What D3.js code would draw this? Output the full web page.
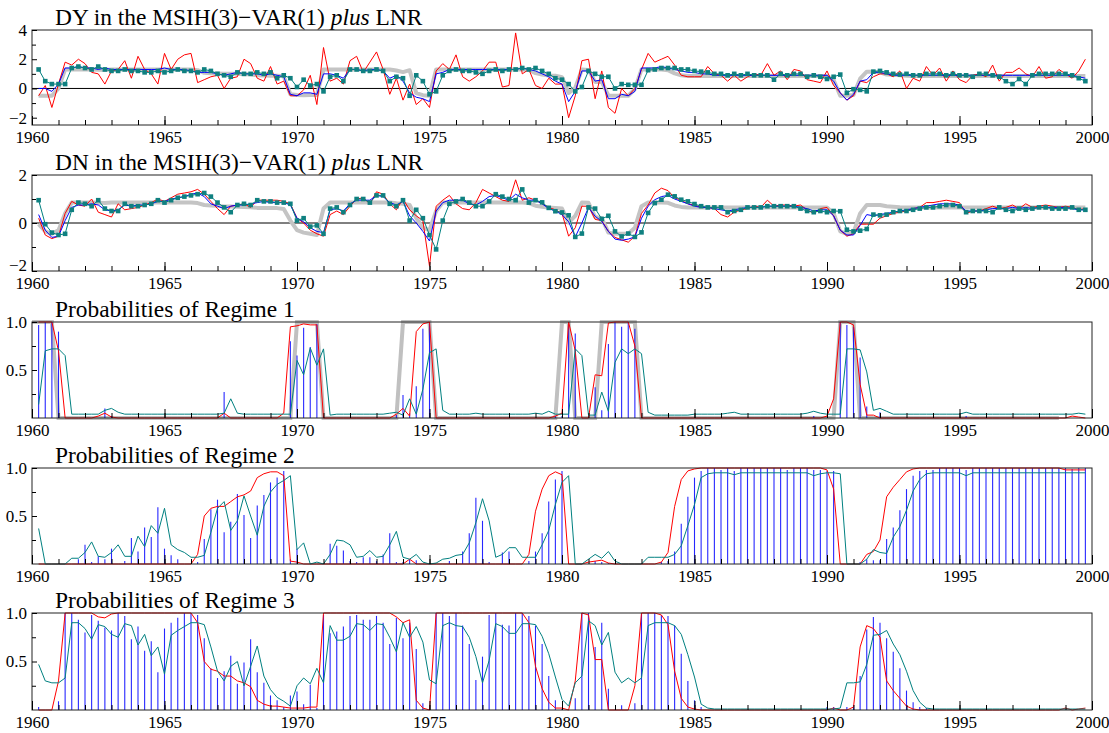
<!DOCTYPE html>
<html>
<head>
<meta charset="utf-8">
<script src="https://cdn.jsdelivr.net/npm/d3@7"></script>
<style>
  body { margin: 0; background: #fff; }
  svg text { font-family: "Liberation Serif", "Times New Roman", serif; fill: #000; }
</style>
</head>
<body>
<svg id="chart" width="1109" height="733"></svg>
<script>
// quarterly observations, 1960Q2 .. 1999Q4 (first row of each array is 1960Q2-Q4)
const firstQuarter = 1960.25;

const dyActual = [
  -0.5, 0.2, -1.3,
  0.3, 1.8, 1.6, 2.0,   1.7, 1.1, 1.0, 0.3,   1.2, 1.3, 1.9, 0.7,   2.2, 1.3, 1.0, 0.3,
  2.4, 1.3, 2.0, 2.3,   2.4, 0.4, 0.6, 0.8,   0.9, 0.0, 0.7, 0.8,   2.0, 1.7, 0.7, 0.5,
  1.5, 0.3, 0.5, -0.5,  -0.5, -0.1, 0.9, -1.1, 2.8, 0.5, 0.7, 0.3,  1.9, 2.2, 1.1, 1.8,
  2.5, 1.3, -0.4, 0.7,  -0.8, 0.3, -1.1, -0.7, -1.3, 1.2, 1.7, 1.3, 2.3, 0.8, 0.5, 0.8,
  1.2, 1.8, 1.8, 0.1,   0.2, 3.8, 1.0, 1.3,   0.2, 0.0, 0.7, 0.3,   0.3, -2.0, -0.5, 1.9,
  2.0, -0.7, 1.2, -1.3, -1.7, 0.0, -0.5, 0.0, 1.3, 2.4, 1.8, 2.0,   2.2, 1.6, 0.9, 0.8,
  0.8, 0.8, 1.5, 1.0,   0.9, 0.5, 0.9, 0.5,   0.8, 1.0, 0.9, 1.7,   0.9, 1.2, 0.6, 1.3,
  1.2, 0.6, 0.5, 0.4,   1.2, 0.2, -0.3, -0.8, -0.5, 0.5, 0.4, 0.8,  1.0, 1.0, 0.8, 1.2,
  0.0, 0.7, 0.5, 1.5,   0.9, 1.4, 0.5, 1.2,   0.6, 0.4, 0.9, 1.0,   0.8, 1.6, 0.5, 1.1,
  1.1, 1.4, 1.0, 0.8,   1.5, 0.7, 0.8, 1.3,   1.0, 0.7, 1.2, 2.0
];
const dyFitted = [
  0.0, 0.0, -0.2,
  0.3, 1.4, 1.4, 1.5,   1.4, 1.4, 1.3, 1.4,   1.3, 1.3, 1.3, 1.3,   1.3, 1.3, 1.3, 1.3,
  1.4, 1.3, 1.3, 1.3,   1.2, 1.1, 1.1, 1.1,   1.0, 0.9, 1.0, 1.1,   1.0, 1.0, 1.0, 0.9,
  1.0, 0.9, 0.8, -0.4,  -0.5, -0.3, -0.3, -0.4, 1.0, 1.0, 0.9, 0.7, 1.3, 1.3, 1.2, 1.3,
  1.3, 1.2, 0.7, 0.9,   0.5, -0.3, -0.6, -0.7, -0.9, 1.0, 1.1, 1.3, 1.3, 1.3, 1.3, 1.3,
  1.3, 1.3, 1.3, 1.3,   1.3, 1.3, 1.4, 1.3,   1.2, 1.0, 0.8, 0.5,   0.3, -0.9, -0.2, 1.2,
  1.2, 0.5, 0.6, -0.7,  -0.7, -0.4, -0.5, -0.2, 1.4, 1.4, 1.4, 1.5, 1.4, 1.3, 1.2, 1.1,
  1.1, 1.0, 1.0, 0.9,   0.9, 0.9, 0.9, 0.9,   0.9, 0.9, 0.9, 0.9,   0.9, 0.9, 0.9, 0.9,
  0.9, 0.9, 0.9, 0.9,   0.9, 0.5, -0.3, -0.8, -0.4, 0.5, 0.6, 1.1,  1.1, 1.0, 0.9, 0.9,
  0.9, 0.9, 0.9, 0.9,   0.9, 0.9, 0.9, 0.9,   0.9, 0.9, 0.9, 0.9,   0.9, 0.9, 0.9, 0.9,
  0.9, 0.9, 0.9, 0.9,   0.9, 0.9, 0.9, 0.9,   0.9, 0.9, 0.8, 0.7
];
const dyPredicted = [
  1.3, 0.5, 0.3,
  0.3, 0.3, 1.4, 1.5,   1.4, 1.3, 1.5, 1.3,   1.2, 1.2, 1.3, 1.2,   1.2, 1.1, 1.1, 1.2,
  1.1, 1.2, 1.3, 1.2,   1.2, 1.1, 1.3, 1.2,   1.0, 0.9, 0.8, 1.1,   1.0, 1.0, 1.1, 1.0,
  1.1, 0.7, 0.9, 0.7,   0.1, 0.6, 0.2, 0.3,   -0.2, 0.8, 0.9, 0.5,  1.3, 1.3, 1.2, 1.2,
  1.3, 1.2, 0.5, 0.8,   0.7, -0.5, 0.9, 0.5,  -0.4, -0.2, 0.9, 1.2, 1.3, 1.2, 1.2, 1.1,
  1.0, 1.2, 1.3, 1.2,   1.3, 1.3, 1.4, 1.3,   1.4, 1.2, 1.0, 0.7,   0.6, 0.3, -0.2, 0.1,
  1.2, 1.0, 0.8, 0.8,   0.0, 0.3, 0.25, 0.25, 0.25, 1.25, 1.3, 1.4, 1.4, 1.4, 1.3, 1.3,
  1.2, 1.15, 1.1, 1.0,  1.0, 0.9, 1.0, 0.9,   1.0, 0.9, 0.9, 0.9,   0.6, 1.0, 0.9, 1.0,
  1.0, 0.8, 0.9, 0.8,   0.65, 0.8, 0.95, -0.3, -0.05, -0.1, -0.2, 1.15, 1.2, 1.1, 1.0, 0.95,
  1.0, 0.9, 0.9, 1.0,   1.0, 1.0, 0.9, 1.0,   0.9, 0.9, 0.8, 1.0,   1.0, 0.9, 0.8, 0.5,
  0.3, 0.65, 0.3, 0.9,  1.0, 1.0, 1.0, 1.0,   1.0, 0.9, 0.7, 0.5
];
const dyMean = [
  -0.5, -0.5, -0.5,
  0.0, 1.3, 1.3, 1.3,   1.3, 1.3, 1.28, 1.27, 1.3, 1.3, 1.3, 1.3,   1.3, 1.3, 1.3, 1.3,
  1.3, 1.3, 1.3, 1.3,   1.3, 1.25, 1.07, 1.04, 1.03, 1.0, 1.0, 1.0, 0.98, 0.97, 0.9, 0.88,
  0.87, 0.87, 0.83, -0.4, -0.45, -0.46, -0.45, -0.45, 1.3, 1.3, 1.3, 1.3, 1.3, 1.3, 1.3, 1.3,
  1.3, 1.3, 1.3, 1.23, 1.12, 1.25, -0.32, -0.46, -0.5, 1.3, 1.3, 1.3, 1.3, 1.3, 1.3, 1.3,
  1.3, 1.3, 1.3, 1.3,   1.3, 1.3, 1.3, 1.26, 1.05, 0.95, 0.89, 0.87, 0.77, -0.3, 0.04, 1.3,
  1.27, 0.45, 0.45, -0.48, -0.5, -0.5, -0.5, -0.05, 1.3, 1.3, 1.3, 1.29, 1.25, 1.03, 0.9, 0.86,
  0.85, 0.85, 0.85, 0.85, 0.85, 0.85, 0.85, 0.85, 0.85, 0.85, 0.85, 0.85, 0.85, 0.85, 0.85, 0.85,
  0.85, 0.85, 0.85, 0.85, 0.85, 0.58, -0.5, -0.5, -0.45, 0.67, 1.15, 1.14, 1.1, 0.95, 0.94, 0.9,
  0.87, 0.86, 0.85, 0.85, 0.85, 0.85, 0.85, 0.85, 0.85, 0.85, 0.85, 0.85, 0.85, 0.85, 0.85, 0.85,
  0.85, 0.85, 0.85, 0.85, 0.85, 0.85, 0.85, 0.85, 0.86, 0.86, 0.86, 0.86
];

const dnActual = [
  0.2, -0.5, -0.65,
  -0.55, 0.4, 0.9, 0.75, 0.7, 1.0, 0.45, 0.35, 0.25, 0.8, 0.55, 0.6,  0.65, 0.75, 0.85, 1.0,
  0.9, 1.05, 1.2, 1.25, 1.3, 1.4, 1.2, 0.9,   0.6, 0.35, 0.7, 0.75,  0.8, 0.65, 0.95, 0.95,
  0.95, 0.95, 0.9, 0.8, 0.2, 0.0, -0.3, -0.45, -0.55, 0.35, 0.5, 0.35, 0.7, 1.0, 1.05, 0.8,
  1.3, 1.2, 0.8, 0.55,  1.0, 0.55, 0.3, 0.1,  -1.8, 0.7, 0.95, 1.15, 0.8, 0.6, 0.55, 0.85,
  1.4, 1.25, 1.1, 0.95, 0.9, 1.8, 0.95, 1.05, 0.95, 0.8, 0.65, 0.55, 0.4, -0.55, -0.2, 0.7,
  0.7, 0.15, 0.1, -0.35, -0.6, -0.7, -0.8, -0.55, 0.4, 0.75, 1.25, 1.45, 1.35, 1.05, 0.95, 0.8,
  0.75, 0.65, 0.65, 0.6, 0.35, 0.25, 0.45, 0.55, 0.6, 0.7, 0.65, 0.95, 0.7, 0.75, 0.75, 0.7,
  0.75, 0.55, 0.4, 0.6, 0.65, 0.3, -0.3, -0.55, -0.45, -0.05, -0.05, -0.05, 0.2, 0.3, 0.4, 0.45,
  0.5, 0.6, 0.65, 0.85, 0.85, 0.9, 0.95, 0.9,  0.85, 0.4, 0.5, 0.5,   0.6, 0.7, 0.6, 0.65,
  0.75, 0.6, 0.8, 0.65, 0.7, 0.75, 0.7, 0.65,  0.7, 0.65, 0.55, 0.6
];
const dnFitted = [
  0.35, -0.3, -0.6,
  -0.55, 0.1, 0.65, 0.75, 0.75, 0.8, 0.75, 0.55, 0.5, 0.55, 0.75, 0.7, 0.75, 0.75, 0.8, 0.9,
  0.9, 1.0, 1.05, 1.1,  1.2, 1.25, 1.1, 0.8,  0.7, 0.6, 0.7, 0.75,   0.75, 0.8, 0.85, 0.9,
  0.85, 0.85, 0.85, 0.75, 0.2, 0.05, -0.2, -0.35, -0.4, 0.55, 0.6, 0.5, 0.8, 0.95, 0.95, 0.95,
  1.15, 1.1, 0.85, 0.75, 0.9, 0.3, 0.0, -0.35, -0.75, 0.5, 0.85, 0.95, 0.95, 0.95, 0.8, 0.75,
  0.9, 1.1, 1.15, 1.05, 0.95, 1.2, 1.05, 0.95, 0.95, 0.8, 0.6, 0.5,  0.35, 0.05, -0.58, 0.0,
  0.65, 0.28, 0.07, -0.35, -0.67, -0.72, -0.67, -0.58, 0.2, 0.7, 0.97, 1.1, 1.15, 1.0, 0.9, 0.8,
  0.7, 0.65, 0.65, 0.6, 0.55, 0.5, 0.55, 0.6,  0.65, 0.65, 0.65, 0.7, 0.7, 0.7, 0.7, 0.7,
  0.65, 0.6, 0.5, 0.55, 0.55, 0.3, -0.3, -0.5, -0.5, -0.1, 0.35, 0.3, 0.35, 0.4, 0.45, 0.5,
  0.55, 0.6, 0.65, 0.7, 0.75, 0.8, 0.8, 0.8,   0.75, 0.5, 0.5, 0.5,   0.55, 0.6, 0.6, 0.6,
  0.65, 0.6, 0.65, 0.6, 0.65, 0.65, 0.65, 0.65, 0.65, 0.6, 0.55, 0.55
];
const dnPredicted = [
  0.95, -0.05, -0.4,
  -0.5, -0.45, 0.55, 0.85, 0.8, 0.7, 0.95, 0.6, 0.5, 0.5, 0.8, 0.7,  0.7, 0.75, 0.8, 0.95,
  0.85, 0.95, 1.05, 1.1, 1.15, 1.2, 1.25, 1.1, 0.85, 0.65, 0.45, 0.75, 0.8, 0.75, 0.95, 0.9,
  0.9, 0.85, 0.85, 0.8, 0.1, 0.2, -0.15, -0.1, -0.45, 0.6, 0.65, 0.45, 0.75, 1.0, 1.0, 0.85,
  1.15, 1.15, 0.8, 0.7, 0.95, 0.1, 0.55, 0.2, -0.5, -1.1, 0.1, 0.8,  0.9, 1.0, 0.85, 0.7,
  0.7, 0.9, 1.2, 1.1,   1.0, 0.95, 1.4, 0.85, 0.95, 0.86, 0.63, 0.49, 0.44, 0.32, -0.58, -0.44,
  0.65, 0.6, 0.17, 0.3, -0.35, -0.56, -0.44, -0.58, -0.39, 0.42, 0.83, 0.97, 1.18, 1.11, 0.97, 0.9,
  0.79, 0.7, 0.65, 0.65, 0.65, 0.45, 0.5, 0.55, 0.65, 0.65, 0.65, 0.7, 0.7, 0.7, 0.7, 0.7,
  0.6, 0.5, 0.45, 0.5,  0.45, 0.5, 0.49, -0.28, -0.35, -0.32, -0.25, 0.35, 0.32, 0.35, 0.45, 0.5,
  0.5, 0.55, 0.6, 0.65, 0.65, 0.7, 0.75, 0.75, 0.7, 0.45, 0.5, 0.5,  0.5, 0.45, 0.65, 0.55,
  0.5, 0.6, 0.55, 0.6,  0.65, 0.65, 0.6, 0.6,  0.6, 0.65, 0.55, 0.55
];
const dnMean = [
  -0.05, -0.35, -0.45,
  -0.3, 0.4, 0.85, 0.85, 0.85, 0.85, 0.84, 0.83, 0.85, 0.85, 0.85, 0.85, 0.85, 0.85, 0.85, 0.85,
  0.85, 0.85, 0.85, 0.85, 0.85, 0.83, 0.75, 0.73, 0.72, 0.69, 0.69, 0.68, 0.67, 0.66, 0.63, 0.62,
  0.62, 0.62, 0.58, 0.1, -0.3, -0.4, -0.45, -0.5, 0.6, 0.85, 0.85, 0.85, 0.85, 0.85, 0.85, 0.85,
  0.85, 0.85, 0.85, 0.82, 0.8, 0.75, 0.2, -0.2, -0.3, 0.5, 0.85, 0.85, 0.85, 0.85, 0.85, 0.85,
  0.85, 0.85, 0.85, 0.85, 0.85, 0.85, 0.85, 0.83, 0.72, 0.68, 0.65, 0.63, 0.6, 0.02, 0.3, 0.85,
  0.84, 0.25, 0.2, -0.4, -0.45, -0.45, -0.45, -0.2, 0.7, 0.85, 0.85, 0.85, 0.84, 0.73, 0.67, 0.65,
  0.65, 0.65, 0.65, 0.65, 0.65, 0.65, 0.65, 0.65, 0.65, 0.65, 0.65, 0.65, 0.65, 0.65, 0.65, 0.65,
  0.65, 0.65, 0.65, 0.65, 0.65, 0.4, -0.35, -0.45, -0.4, 0.4, 0.75, 0.75, 0.75, 0.7, 0.68, 0.66,
  0.65, 0.65, 0.65, 0.65, 0.65, 0.65, 0.65, 0.65, 0.65, 0.65, 0.65, 0.65, 0.65, 0.65, 0.65, 0.65,
  0.65, 0.65, 0.65, 0.65, 0.65, 0.65, 0.65, 0.65, 0.65, 0.65, 0.65, 0.65
];

// regime probabilities: smoothed (red), filtered (bars), predicted (teal)
const p1Smoothed = [
  1, 1, 1,
  0.7, 0, 0, 0,   0, 0, 0.02, 0.05,   0.01, 0, 0, 0,   0, 0, 0, 0,
  0, 0, 0, 0,     0, 0, 0, 0,   0, 0.05, 0, 0,   0, 0, 0, 0,
  0, 0, 0.05, 0.95,  0.96, 0.98, 0.97, 0.97,  0, 0, 0, 0,   0, 0, 0, 0,
  0, 0, 0, 0.04,  0.1, 0.02, 0.9, 0.98,  1, 0, 0, 0,   0, 0, 0, 0,
  0, 0, 0, 0,     0, 0, 0, 0,   0, 0, 0, 0.02,   0.05, 1, 0.7, 0,
  0, 0.45, 0.44, 0.99,  1, 1, 1, 0.75,  0, 0, 0, 0,   0, 0, 0, 0,
  0, 0, 0, 0,     0, 0, 0, 0,   0, 0, 0, 0,   0, 0, 0, 0,
  0, 0, 0, 0,     0.02, 0.2, 1, 1,  0.97, 0.35, 0.03, 0.03,  0, 0, 0, 0,
  0, 0, 0, 0,     0, 0, 0, 0,   0, 0, 0, 0,   0, 0, 0, 0,
  0, 0, 0, 0,     0, 0, 0, 0,   0, 0.02, 0.01, 0
];
const p1Filtered = [
  0.97, 1, 1,
  0.9, 0, 0, 0,   0, 0, 0, 0.1,   0.02, 0, 0, 0,   0, 0, 0, 0,
  0, 0, 0, 0,     0, 0, 0, 0,   0, 0.27, 0, 0,   0, 0, 0, 0,
  0, 0, 0, 0.8,   0.65, 0.94, 0.74, 0.98,  0.02, 0, 0, 0,   0, 0, 0, 0,
  0, 0, 0, 0.03,  0.24, 0.05, 0.33, 0.93,  1, 0, 0, 0,   0, 0, 0, 0,
  0, 0, 0, 0,     0, 0, 0, 0,   0, 0, 0, 0.02,   0.02, 1, 0.88, 0,
  0, 0.32, 0.08, 0.77,  1, 0.95, 1, 0.93,  0, 0, 0, 0,   0, 0, 0, 0,
  0, 0, 0, 0,     0, 0, 0, 0,   0, 0, 0, 0,   0, 0, 0, 0,
  0, 0, 0.02, 0,  0, 0, 1, 0.97,  0.95, 0.63, 0.12, 0,  0.06, 0, 0, 0,
  0, 0, 0, 0,     0, 0, 0, 0,   0, 0.02, 0, 0,   0, 0, 0, 0,
  0, 0, 0, 0,     0, 0, 0, 0,   0, 0, 0, 0
];
const p1Predicted = [
  0.14, 0.7, 0.72,
  0.72, 0.65, 0.04, 0.04,  0.04, 0.04, 0.04, 0.08,  0.1, 0.06, 0.04, 0.04,  0.04, 0.04, 0.04, 0.04,
  0.04, 0.04, 0.04, 0.04,  0.04, 0.04, 0.04, 0.04,  0.04, 0.05, 0.2, 0.05,  0.04, 0.04, 0.04, 0.04,
  0.04, 0.04, 0.04, 0.04,  0.6, 0.45, 0.73, 0.55,   0.72, 0.03, 0.04, 0.04, 0.04, 0.04, 0.04, 0.04,
  0.04, 0.04, 0.05, 0.06,  0.03, 0.2, 0.04, 0.3,    0.68, 0.72, 0.08, 0.04, 0.04, 0.04, 0.04, 0.05,
  0.04, 0.04, 0.04, 0.04,  0.04, 0.04, 0.04, 0.04,  0.05, 0.04, 0.07, 0.04, 0.04, 0.04, 0.72, 0.65,
  0.03, 0.03, 0.27, 0.07,  0.58, 0.72, 0.67, 0.72,  0.67, 0.06, 0.03, 0.03, 0.03, 0.03, 0.03, 0.03,
  0.04, 0.04, 0.04, 0.04,  0.04, 0.05, 0.06, 0.04,  0.04, 0.04, 0.04, 0.04, 0.04, 0.04, 0.04, 0.04,
  0.04, 0.05, 0.07, 0.05,  0.04, 0.04, 0.04, 0.72,  0.72, 0.71, 0.48, 0.08, 0.1, 0.07, 0.04, 0.04,
  0.04, 0.04, 0.04, 0.04,  0.04, 0.04, 0.04, 0.04,  0.04, 0.06, 0.04, 0.04, 0.04, 0.04, 0.04, 0.04,
  0.04, 0.04, 0.04, 0.04,  0.04, 0.04, 0.04, 0.04,  0.04, 0.04, 0.05, 0.04
];
const p2Smoothed = [
  0, 0, 0,
  0, 0, 0, 0,   0, 0, 0, 0,   0, 0, 0, 0,   0, 0, 0, 0,
  0, 0, 0, 0,   0, 0.1, 0.5, 0.58,  0.6, 0.6, 0.65, 0.7,  0.72, 0.76, 0.9, 0.94,
  0.96, 0.96, 0.92, 0.03,  0.02, 0, 0, 0,   0, 0, 0, 0,   0, 0, 0, 0,
  0, 0, 0, 0,   0, 0.05, 0, 0,   0, 0, 0, 0,   0, 0, 0, 0,
  0, 0, 0, 0,   0, 0, 0, 0.1,   0.55, 0.78, 0.92, 0.96,  0.93, 0, 0, 0,
  0.02, 0.03, 0.04, 0.01,  0, 0, 0, 0,   0, 0, 0, 0.02,  0.12, 0.6, 0.88, 0.97,
  0.99, 1, 1, 1,   1, 1, 1, 1,   1, 1, 1, 1,   1, 1, 1, 1,
  1, 1, 1, 1,   0.98, 0.78, 0, 0,   0, 0, 0.1, 0.13,  0.25, 0.7, 0.8, 0.88,
  0.96, 0.99, 1, 1,   1, 1, 1, 1,   1, 1, 1, 1,   1, 1, 1, 1,
  1, 1, 1, 1,   1, 1, 1, 1,   0.98, 0.98, 0.98, 0.98
];
const p2Filtered = [
  0, 0, 0,
  0, 0, 0, 0.05,   0.2, 0.02, 0.08, 0.05,   0.16, 0, 0.03, 0.27,   0.13, 0.38, 0.28, 0.59,
  0.16, 0.09, 0.05, 0,   0, 0.02, 0.26, 0.57,   0.67, 0.33, 0.44, 0.73,   0.51, 0.27, 0.61, 0.72,
  0.85, 0.9, 0.97, 0.05,  0.16, 0, 0, 0,   0, 0.21, 0.19, 0.14,   0.03, 0.02, 0.07, 0.07,
  0.03, 0.1, 0.32, 0.02,  0.02, 0.05, 0.04, 0,   0, 0, 0, 0.03,   0, 0.13, 0.32, 0.69,
  0.45, 0.02, 0, 0.12,   0.13, 0, 0, 0.03,   0.13, 0.32, 0.65, 0.88,   0.97, 0, 0, 0,
  0, 0.03, 0.02, 0.01,   0, 0, 0, 0,   0, 0, 0, 0.02,   0.03, 0.13, 0.42, 0.7,
  0.9, 0.97, 1, 1,   0.98, 1, 0.97, 1,   1, 1, 1, 1,   1, 1, 0.98, 1,
  1, 1, 0.98, 0.98,   0.97, 0.97, 0, 0,   0, 0.02, 0.05, 0.04,   0.04, 0.26, 0.38, 0.56,
  0.78, 0.92, 0.97, 0.98,   0.98, 1, 1, 1,   1, 0.98, 1, 1,   1, 1, 1, 1,
  1, 1, 1, 1,   1, 1, 1, 1,   1, 0.99, 1, 1
];
const p2Predicted = [
  0.37, 0, 0,
  0, 0, 0.06, 0.06,   0.12, 0.23, 0.08, 0.07,   0.12, 0.2, 0.08, 0.08,   0.29, 0.18, 0.4, 0.32,
  0.58, 0.2, 0.15, 0.12,   0.07, 0.07, 0.09, 0.33,   0.58, 0.65, 0.35, 0.45,   0.71, 0.5, 0.3, 0.6,
  0.75, 0.83, 0.87, 0.92,   0.15, 0.22, 0, 0.02,   0, 0.1, 0.25, 0.24,   0.2, 0.07, 0.08, 0.14,
  0.07, 0.08, 0.2, 0.34,   0.07, 0.05, 0.1, 0.02,   0, 0.01, 0.05, 0.06,   0.09, 0.1, 0.22, 0.43,
  0.68, 0.45, 0.07, 0.1,   0.17, 0.17, 0.07, 0.07,   0.07, 0.2, 0.35, 0.62,   0.85, 0.92, 0, 0,
  0.05, 0.1, 0.06, 0.13,   0.03, 0, 0, 0,   0, 0.07, 0.07, 0.07,   0.07, 0.1, 0.19, 0.4,
  0.62, 0.9, 0.94, 0.95,   0.95, 0.95, 0.93, 0.95,   0.95, 0.95, 0.95, 0.95,   0.95, 0.95, 0.95, 0.95,
  0.95, 0.95, 0.92, 0.94,   0.95, 0.95, 0.94, 0,   0, 0, 0.05, 0.15,   0.12, 0.11, 0.28, 0.39,
  0.56, 0.76, 0.88, 0.94,   0.95, 0.95, 0.95, 0.95,   0.95, 0.92, 0.95, 0.95,   0.95, 0.95, 0.95, 0.95,
  0.95, 0.95, 0.95, 0.95,   0.95, 0.95, 0.95, 0.95,   0.95, 0.95, 0.95, 0.95
];
const p3Smoothed = [
  0, 0, 0,
  0.3, 1, 1, 1,   1, 1, 0.96, 0.95,   0.99, 1, 1, 1,   1, 1, 1, 1,
  1, 1, 1, 1,   1, 0.9, 0.5, 0.42,   0.4, 0.35, 0.35, 0.3,   0.28, 0.24, 0.1, 0.06,
  0.04, 0.04, 0.03, 0.02,   0.02, 0.02, 0.03, 0.03,   1, 1, 1, 1,   1, 1, 1, 1,
  1, 1, 1, 0.96,   0.9, 0.93, 0.1, 0.02,   0, 1, 1, 1,   1, 1, 1, 1,
  1, 1, 1, 1,   1, 1, 1, 0.9,   0.45, 0.22, 0.08, 0.02,   0.02, 0, 0.3, 1,
  0.98, 0.52, 0.52, 0,   0, 0, 0, 0.25,   1, 1, 1, 0.98,   0.88, 0.4, 0.12, 0.03,
  0.01, 0, 0, 0,   0, 0, 0, 0,   0, 0, 0, 0,   0, 0, 0, 0,
  0, 0, 0, 0,   0, 0.02, 0, 0,   0.03, 0.65, 0.87, 0.84,   0.75, 0.3, 0.2, 0.12,
  0.04, 0.01, 0, 0,   0, 0, 0, 0,   0, 0, 0, 0,   0, 0, 0, 0,
  0, 0, 0, 0,   0, 0, 0, 0,   0.02, 0, 0.01, 0.02
];
const p3Filtered = [
  0.03, 0, 0,
  0.09, 1, 1, 0.93,   0.8, 0.98, 0.92, 0.85,   0.82, 1, 0.97, 0.73,   0.86, 0.61, 0.71, 0.39,
  0.84, 0.9, 0.95, 1,   1, 0.98, 0.74, 0.43,   0.33, 0.4, 0.56, 0.27,   0.49, 0.73, 0.39, 0.28,
  0.15, 0.1, 0.03, 0.15,   0.19, 0.06, 0.26, 0.02,   0.98, 0.79, 0.81, 0.86,   0.97, 0.98, 0.93, 0.93,
  0.97, 0.9, 0.68, 0.95,   0.74, 0.9, 0.63, 0.07,   0, 1, 1, 0.97,   1, 0.87, 0.68, 0.31,
  0.55, 0.98, 1, 0.88,   0.87, 1, 1, 0.97,   0.87, 0.68, 0.35, 0.1,   0.01, 0, 0.12, 1,
  1, 0.65, 0.9, 0.22,   0, 0.05, 0, 0.07,   1, 1, 1, 0.98,   0.97, 0.87, 0.58, 0.3,
  0.1, 0.03, 0, 0,   0, 0, 0, 0,   0, 0, 0, 0,   0, 0, 0, 0,
  0, 0, 0, 0,   0.03, 0.03, 0, 0.03,   0.05, 0.35, 0.83, 0.96,   0.9, 0.74, 0.6, 0.43,
  0.2, 0.08, 0.03, 0.02,   0, 0, 0, 0,   0, 0, 0, 0,   0, 0, 0, 0,
  0, 0, 0, 0,   0, 0, 0, 0,   0, 0, 0, 0
];
const p3Predicted = [
  0.47, 0.3, 0.28,
  0.28, 0.33, 0.9, 0.9,   0.84, 0.73, 0.88, 0.86,   0.78, 0.75, 0.89, 0.87,   0.67, 0.78, 0.56, 0.65,
  0.37, 0.77, 0.82, 0.86,   0.9, 0.9, 0.88, 0.65,   0.4, 0.3, 0.45, 0.5,   0.25, 0.45, 0.66, 0.35,
  0.21, 0.13, 0.09, 0.04,   0.25, 0.33, 0.27, 0.43,   0.28, 0.87, 0.72, 0.72,   0.76, 0.89, 0.88, 0.82,
  0.89, 0.88, 0.75, 0.6,   0.9, 0.75, 0.86, 0.7,   0.31, 0.27, 0.87, 0.9,   0.87, 0.86, 0.75, 0.55,
  0.28, 0.51, 0.89, 0.86,   0.79, 0.79, 0.89, 0.89,   0.88, 0.76, 0.58, 0.34,   0.11, 0.04, 0.28, 0.35,
  0.92, 0.87, 0.67, 0.8,   0.39, 0.28, 0.33, 0.28,   0.33, 0.87, 0.9, 0.9,   0.9, 0.87, 0.78, 0.57,
  0.34, 0.06, 0.02, 0.01,   0.01, 0.01, 0.01, 0.01,   0.01, 0.01, 0.01, 0.01,   0.01, 0.01, 0.01, 0.01,
  0.01, 0.01, 0.01, 0.01,   0.01, 0.01, 0.02, 0.28,   0.28, 0.29, 0.47, 0.77,   0.78, 0.82, 0.68, 0.57,
  0.4, 0.2, 0.08, 0.02,   0.01, 0.01, 0.01, 0.01,   0.01, 0.01, 0.01, 0.01,   0.01, 0.01, 0.01, 0.01,
  0.01, 0.01, 0.01, 0.01,   0.01, 0.01, 0.01, 0.01,   0.01, 0.01, 0.01, 0.01
];

// recession dating shown in the regime 1 panel, quarterly from 1960Q1
const recession = [
  1, 1, 1, 1,   0, 0, 0, 0,   0, 0, 0, 0,   0, 0, 0, 0,   0, 0, 0, 0,
  0, 0, 0, 0,   0, 0, 0, 0,   0, 0, 0, 0,   0, 0, 0, 0,   0, 0, 0, 0,
  1, 1, 1, 1,   0, 0, 0, 0,   0, 0, 0, 0,   0, 0, 0, 0,   1, 1, 1, 1,
  1, 0, 0, 0,   0, 0, 0, 0,   0, 0, 0, 0,   0, 0, 0, 0,   0, 0, 0, 0,
  1, 1, 0, 0,   0, 0, 1, 1,   1, 1, 1, 1,   0, 0, 0, 0,   0, 0, 0, 0,
  0, 0, 0, 0,   0, 0, 0, 0,   0, 0, 0, 0,   0, 0, 0, 0,   0, 0, 0, 0,
  0, 0, 1, 1,   1, 0, 0, 0,   0, 0, 0, 0,   0, 0, 0, 0,   0, 0, 0, 0,
  0, 0, 0, 0,   0, 0, 0, 0,   0, 0, 0, 0,   0, 0, 0, 0
];

const yearTicks = d3.range(1960, 2001);
const yearLabels = d3.range(1960, 2001, 5);

const svg = d3.select('#chart');
const x = d3.scaleLinear().domain([1960, 2000]).range([32, 1092]);
const qx = (i) => x(firstQuarter + i / 4);

const panels = [
  { title: 'DY', kind: 'level', top: 30, bottom: 125, domain: [-2.5, 4],
    major: [-2, 0, 2, 4], minor: [-1, 1, 3],
    actual: dyActual, fitted: dyFitted, predicted: dyPredicted, mean: dyMean },
  { title: 'DN', kind: 'level', top: 175, bottom: 271, domain: [-2, 2],
    major: [-2, 0, 2], minor: [-1, 1],
    actual: dnActual, fitted: dnFitted, predicted: dnPredicted, mean: dnMean },
  { title: 'Probabilities of Regime 1', kind: 'prob', top: 322, bottom: 418,
    smoothed: p1Smoothed, filtered: p1Filtered, predicted: p1Predicted, shade: recession },
  { title: 'Probabilities of Regime 2', kind: 'prob', top: 468, bottom: 564,
    smoothed: p2Smoothed, filtered: p2Filtered, predicted: p2Predicted },
  { title: 'Probabilities of Regime 3', kind: 'prob', top: 613, bottom: 710,
    smoothed: p3Smoothed, filtered: p3Filtered, predicted: p3Predicted }
];

panels.forEach((p) => {
  const domain = p.kind === 'prob' ? [0, 1] : p.domain;
  const y = d3.scaleLinear().domain(domain).range([p.bottom, p.top]);
  const g = svg.append('g');

  // title
  const title = g.append('text')
    .attr('x', 55)
    .attr('y', p.top - 5)
    .style('font-size', '23.4px');
  if (p.kind === 'level') {
    title.append('tspan').text(`${p.title} in the MSIH(3)\u2212VAR(1) `);
    title.append('tspan').style('font-style', 'italic').text('plus');
    title.append('tspan').text(' LNR');
  } else {
    title.text(p.title);
  }

  const line = d3.line().x((d, i) => qx(i)).y((d) => y(d));

  if (p.kind === 'level') {
    g.append('line')
      .attr('x1', x(1960)).attr('x2', x(2000))
      .attr('y1', y(0)).attr('y2', y(0))
      .attr('stroke', '#000').attr('stroke-width', 1);

    g.append('path').datum(p.mean)
      .attr('d', line).attr('fill', 'none')
      .attr('stroke', '#c4c4c4').attr('stroke-width', 4)
      .attr('stroke-linejoin', 'round');
    g.append('path').datum(p.actual)
      .attr('d', line).attr('fill', 'none')
      .attr('stroke', '#ff0000').attr('stroke-width', 1);
    g.append('path').datum(p.fitted)
      .attr('d', line).attr('fill', 'none')
      .attr('stroke', '#0000ff').attr('stroke-width', 1);
    g.append('path').datum(p.predicted)
      .attr('d', line).attr('fill', 'none')
      .attr('stroke', '#008080').attr('stroke-width', 1);
    g.selectAll('rect.pt')
      .data(p.predicted)
      .join('rect')
      .attr('class', 'pt')
      .attr('x', (d, i) => qx(i) - 2.3)
      .attr('y', (d) => y(d) - 2.3)
      .attr('width', 4.6)
      .attr('height', 4.6)
      .attr('fill', '#0f8080');
  } else {
    if (p.shade) {
      const shadeLine = d3.line().x((d, i) => x(1960 + i / 4)).y((d) => y(d));
      g.append('path').datum(p.shade)
        .attr('d', shadeLine).attr('fill', 'none')
        .attr('stroke', '#c0c0c0').attr('stroke-width', 4);
    }
    g.selectAll('line.bar')
      .data(p.filtered)
      .join('line')
      .attr('class', 'bar')
      .attr('x1', (d, i) => qx(i)).attr('x2', (d, i) => qx(i))
      .attr('y1', y(0)).attr('y2', (d) => y(d))
      .attr('stroke', '#0000ff').attr('stroke-width', 1.1)
      .attr('stroke-opacity', 0.85);
    g.append('path').datum(p.smoothed)
      .attr('d', line).attr('fill', 'none')
      .attr('stroke', '#ff0000').attr('stroke-width', 1);
    g.append('path').datum(p.predicted)
      .attr('d', line).attr('fill', 'none')
      .attr('stroke', '#008080').attr('stroke-width', 1);
  }

  // frame
  g.append('rect')
    .attr('x', x(1960)).attr('y', p.top)
    .attr('width', x(2000) - x(1960)).attr('height', p.bottom - p.top)
    .attr('fill', 'none').attr('stroke', '#222').attr('stroke-width', 1);

  // x axis: minor year ticks and labelled five-year ticks
  const xMinor = g.append('g').attr('transform', `translate(0,${p.bottom})`)
    .call(d3.axisBottom(x).tickValues(yearTicks).tickSize(-5).tickFormat(''));
  const xMajor = g.append('g').attr('transform', `translate(0,${p.bottom})`)
    .call(d3.axisBottom(x).tickValues(yearLabels).tickSize(-9).tickPadding(6)
      .tickFormat(d3.format('d')));

  // y axis
  const major = p.kind === 'prob' ? [0.5, 1.0] : p.major;
  const minor = p.kind === 'prob' ? [0.25, 0.75] : p.minor;
  const yMinor = g.append('g').attr('transform', `translate(${x(1960)},0)`)
    .call(d3.axisLeft(y).tickValues(minor).tickSize(-4).tickFormat(''));
  const yMajor = g.append('g').attr('transform', `translate(${x(1960)},0)`)
    .call(d3.axisLeft(y).tickValues(major).tickSize(-5).tickPadding(5)
      .tickFormat(p.kind === 'prob' ? d3.format('.1f') : d3.format('d')));

  // the lowest label of a panel whose frame ends on a tick sits a little higher
  yMajor.selectAll('.tick')
    .filter((d) => d === domain[0])
    .select('text')
    .attr('dy', '-0.05em');

  [xMinor, xMajor, yMinor, yMajor].forEach((a) => {
    a.select('.domain').remove();
    a.selectAll('text')
      .style('font-family', '"Liberation Serif", "Times New Roman", serif')
      .style('font-size', '17px')
      .attr('fill', '#000');
    a.selectAll('line').attr('stroke', '#000');
  });
});
</script>
</body>
</html>
